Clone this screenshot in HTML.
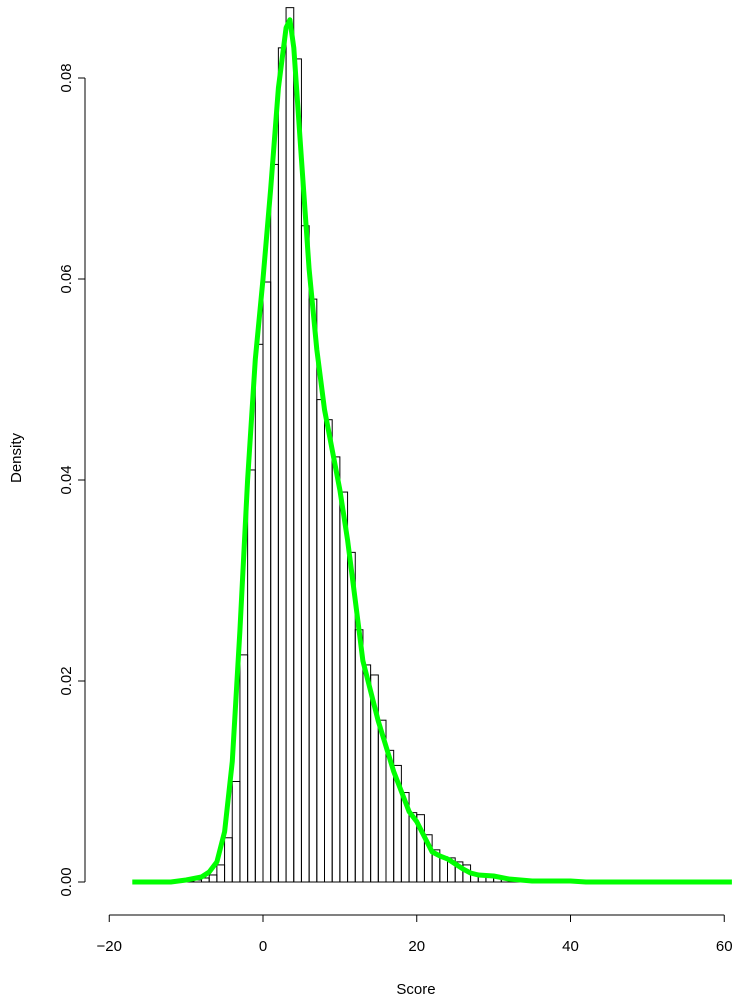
<!DOCTYPE html>
<html><head><meta charset="utf-8"><style>
body{margin:0;background:#fff}
svg text{font-family:"Liberation Sans",sans-serif;font-size:15px;fill:#000}
</style></head><body>
<svg width="744" height="1001" xmlns="http://www.w3.org/2000/svg">
<g id="bars"></g>
<path id="curve" fill="none" stroke="#00ff00" stroke-width="5" stroke-linejoin="round"/>
<g id="axes"></g>
<text x="416" y="994" text-anchor="middle">Score</text>
<text transform="translate(21,458) rotate(-90)" text-anchor="middle">Density</text>
</svg>
<script>
const binStart=-18;
const binDens=[0,0,0,0,0,0,0,0,0.0001,0.0002,0.0004,0.0007,0.0017,0.0044,0.0100,0.0226,0.0410,0.0535,0.0597,0.0714,0.0830,0.0870,0.0819,0.0653,0.0580,0.0480,0.0460,0.0423,0.0388,0.0328,0.0251,0.0216,0.0206,0.0161,0.0131,0.0116,0.0089,0.0069,0.0067,0.0047,0.0032,0.0025,0.0024,0.0020,0.0017,0.0009,0.0008,0.0006,0.0005,0.0004,0.0002,0.0002,0.0001,0.0001,0,0,0,0,0,0,0,0,0,0,0,0,0,0,0,0,0,0,0,0,0,0,0,0,0];
const curveX=[-17,-12,-10,-8,-7,-6,-5,-4,-3,-2,-1,0,1,2,3,3.5,4,5,6,7,8,9,10,11,12,13,14,15,16,17,18,19,20,21,22,23,24,25,26,27,28,30,32,35,40,42,61];
const curveY=[0,0,0.0002,0.0005,0.001,0.002,0.005,0.012,0.025,0.040,0.052,0.060,0.069,0.079,0.085,0.0858,0.083,0.072,0.061,0.053,0.047,0.043,0.039,0.034,0.028,0.022,0.019,0.016,0.0135,0.011,0.009,0.007,0.006,0.0045,0.003,0.0026,0.0023,0.0018,0.0013,0.0009,0.0007,0.0006,0.0003,0.0001,0.0001,0,0];
const xTicks=[-20,0,20,40,60];
const yTicks=[0,0.02,0.04,0.06,0.08];
const yTickLabels=["0.00","0.02","0.04","0.06","0.08"];
const X=v=>263+(v)*7.6875, Y=d=>882-d*10050;
const NS="http://www.w3.org/2000/svg";
const bars=document.getElementById('bars');
binDens.forEach((d,i)=>{const r=document.createElementNS(NS,'rect');


const x0=X(binStart+i),x1=X(binStart+i+1);
r.setAttribute('x',x0);r.setAttribute('width',x1-x0);r.setAttribute('y',Y(d));r.setAttribute('height',Math.max(0,882-Y(d)));
r.setAttribute('fill','none');r.setAttribute('stroke','#000');r.setAttribute('stroke-width','1');bars.appendChild(r);});
document.getElementById('curve').setAttribute('d',curveX.map((x,i)=>(i?'L':'M')+X(x).toFixed(1)+','+Y(curveY[i]).toFixed(1)).join(''));
const ax=document.getElementById('axes');
function line(x1,y1,x2,y2,n){const l=document.createElementNS(NS,'line');


l.setAttribute('x1',x1);l.setAttribute('y1',y1);l.setAttribute('x2',x2);l.setAttribute('y2',y2);l.setAttribute('stroke','#000');ax.appendChild(l);}
function text(x,y,s,n,rot){const t=document.createElementNS(NS,'text');


t.setAttribute('text-anchor','middle');
if(rot)t.setAttribute('transform',`translate(${x},${y}) rotate(-90)`);else{t.setAttribute('x',x);t.setAttribute('y',y);}
t.textContent=s;ax.appendChild(t);}
line(X(xTicks[0]),915,X(xTicks[xTicks.length-1]),915,'x-axis-line');
xTicks.forEach(v=>{line(X(v),915,X(v),922,'x-tick');text(X(v),951,v<0?'\u2212'+(-v):String(v),'x-tick-label');});
line(85,Y(yTicks[0]),85,Y(yTicks[yTicks.length-1]),'y-axis-line');
yTicks.forEach((v,i)=>{line(78,Y(v),85,Y(v),'y-tick');text(71,Y(v),yTickLabels[i],'y-tick-label',true);});
</script>
</body></html>
